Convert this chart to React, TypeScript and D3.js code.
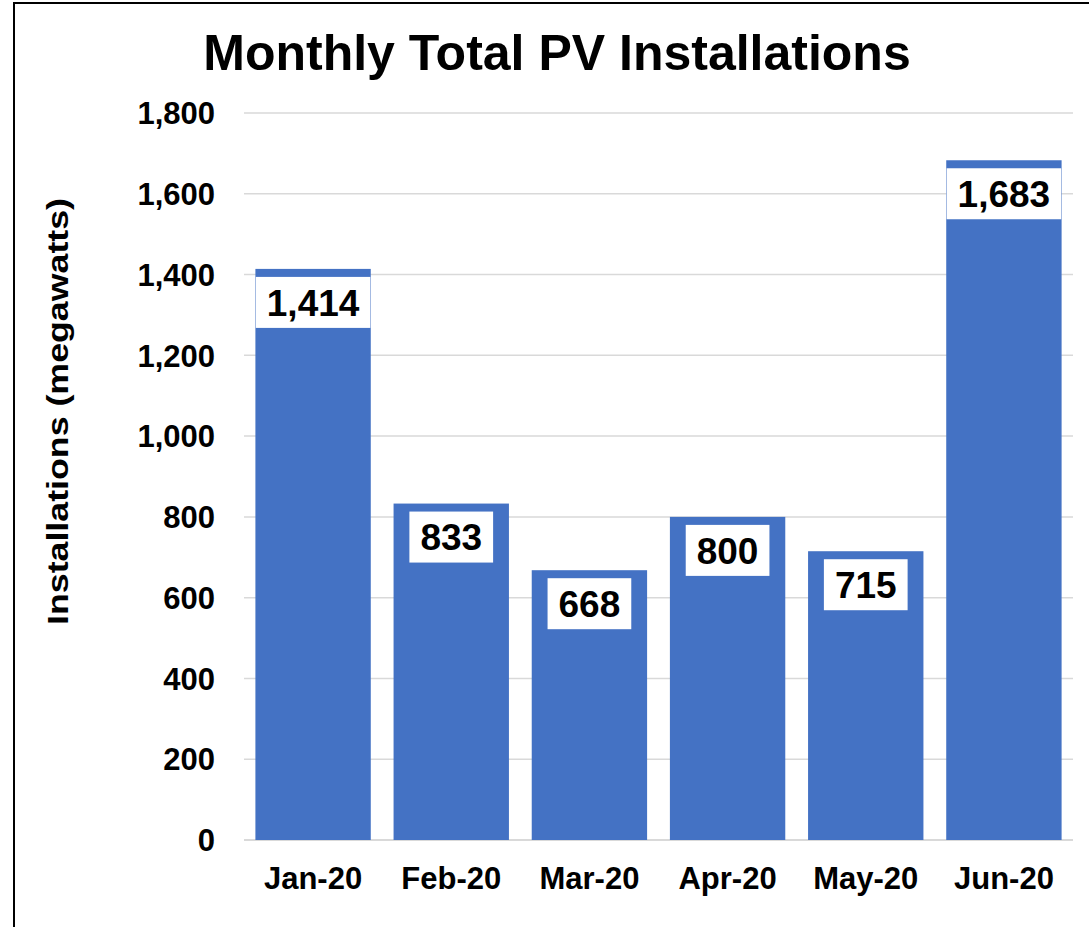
import React from "react";
import { scaleBand, scaleLinear, format } from "d3";

const months = ["Jan-20", "Feb-20", "Mar-20", "Apr-20", "May-20", "Jun-20"];
const installs = [1414, 833, 668, 800, 715, 1683];
const yTicks = [0, 200, 400, 600, 800, 1000, 1200, 1400, 1600, 1800];

const width = 1089;
const height = 927;
const margin = { top: 113, right: 16, bottom: 87, left: 244 };
const innerWidth = width - margin.left - margin.right;
const innerHeight = height - margin.top - margin.bottom;

const font = "Arial, 'Liberation Sans', sans-serif";
const fmt = format(",");

export default function App() {
  const x = scaleBand()
    .domain(months)
    .range([0, innerWidth])
    .paddingInner(0.165)
    .paddingOuter(0.0825);
  const y = scaleLinear().domain([0, 1800]).range([innerHeight, 0]);

  return (
    <div style={{ position: "fixed", left: 0, top: 0 }}>
      <svg width={width} height={height} style={{ display: "block", background: "#fff" }}>
        <rect x={14} y={3} width={width + 20} height={height + 20} fill="#fff" stroke="#000" strokeWidth={2} />
        <text
          x={557}
          y={70}
          textAnchor="middle"
          fontFamily={font}
          fontWeight="bold"
          fontSize={50}
        >
          Monthly Total PV Installations
        </text>
        <text
          transform={`translate(68, 411.5) rotate(-90)`}
          textAnchor="middle"
          fontFamily={font}
          fontWeight="bold"
          fontSize={30}
          textLength={427}
          lengthAdjust="spacingAndGlyphs"
        >
          Installations (megawatts)
        </text>
        <g transform={`translate(${margin.left}, ${margin.top})`}>
          {yTicks.map((t) => (
            <g key={t} transform={`translate(0, ${y(t)})`}>
              <line x2={innerWidth} stroke="#d9d9d9" strokeWidth={t === 0 ? 2 : 1.5} />
              <text
                x={-29}
                dy="0.36em"
                textAnchor="end"
                fontFamily={font}
                fontWeight="bold"
                fontSize={31}
              >
                {fmt(t)}
              </text>
            </g>
          ))}
          {months.map((m, i) => {
            const v = installs[i];
            const bx = x(m) as number;
            const bw = x.bandwidth();
            const label = fmt(v);
            const boxW = label.length * 0.556 * 37 - (label.includes(",") ? 0.278 * 37 : 0) + 22;
            const top = y(v);
            return (
              <g key={m}>
                <rect x={bx} y={top} width={bw} height={innerHeight - top} fill="#4472C4" />
                <rect x={bx + bw / 2 - boxW / 2} y={top + 8} width={boxW} height={51} fill="#fff" />
                <text
                  x={bx + bw / 2}
                  y={top + 8 + 25.5}
                  dy="0.36em"
                  textAnchor="middle"
                  fontFamily={font}
                  fontWeight="bold"
                  fontSize={37}
                >
                  {label}
                </text>
                <text
                  x={bx + bw / 2}
                  y={innerHeight + 49}
                  textAnchor="middle"
                  fontFamily={font}
                  fontWeight="bold"
                  fontSize={31}
                >
                  {m}
                </text>
              </g>
            );
          })}
        </g>
      </svg>
    </div>
  );
}
